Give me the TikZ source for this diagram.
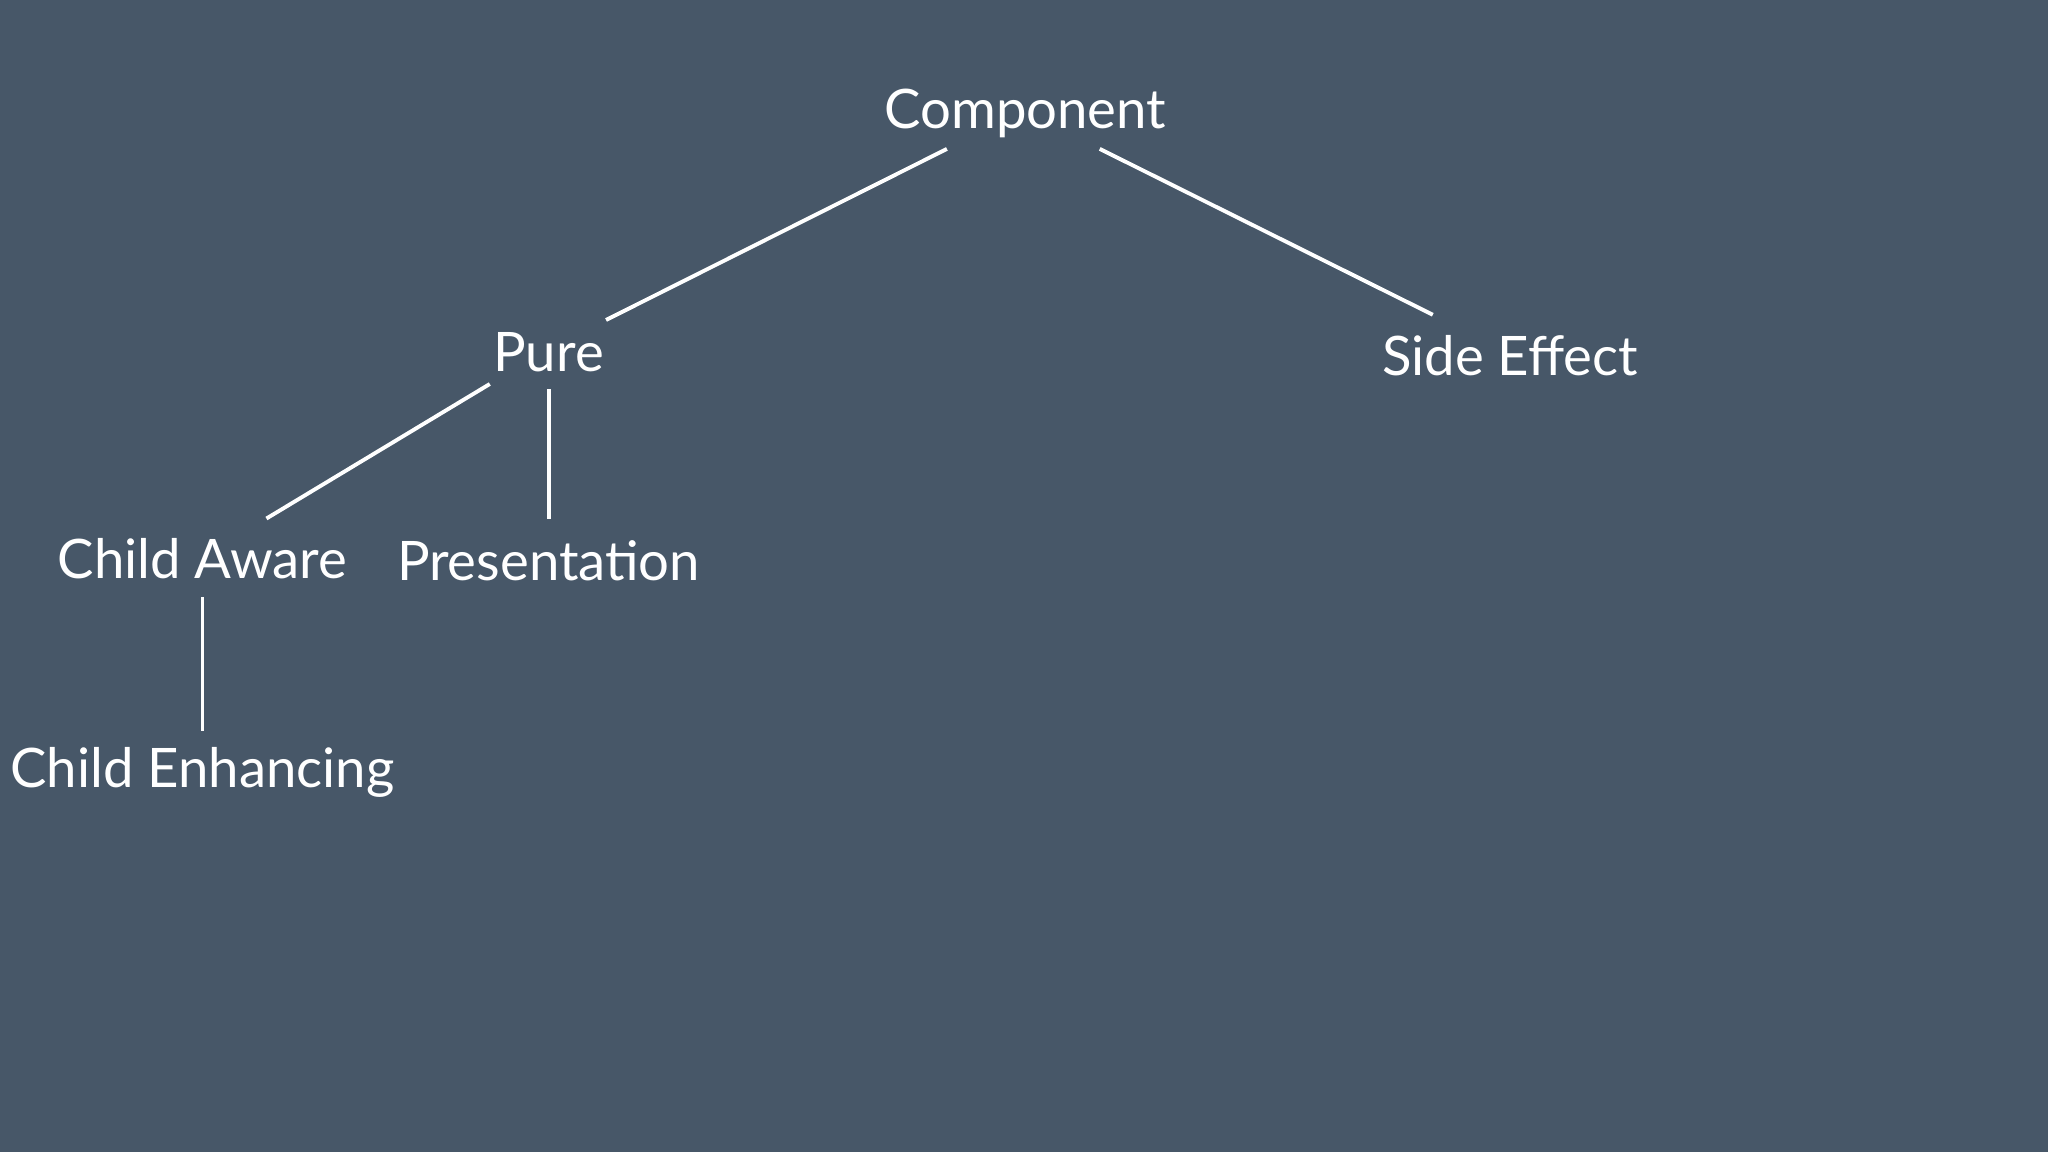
\documentclass[tikz,border=0pt]{standalone}
\usepackage{fontspec}
\setmainfont{Lato}
\usepackage{tikz}

\definecolor{slate}{HTML}{475768}

\begin{document}
\begin{tikzpicture}[
  x=0.01306cm, y=-0.01306cm,
  kind/.style={text=white, font=\fontsize{15.5}{18}\selectfont, inner sep=2pt},
  link/.style={white, line width=1.1pt},
]

\useasboundingbox (0,0) rectangle (1568,882);
\fill[slate] (0,0) rectangle (1568,882);

\node[kind] (comp) at (785,87) {Component};
\node[kind] (pure) at (420,270) {Pure};
\node[kind] (side) at (1156,272) {Side Effect};
\node[kind] (aware) at (155,428) {Child Aware};
\node[kind] (pres) at (420,429) {Presentation};
\node[kind] (enh) at (155,591) {Child Enhancing};

% connectors, offset from node centres
\draw[link] ([shift={(-60,27)}]comp.center) -- ([shift={(44,-25)}]pure.center);
\draw[link] ([shift={(57,27)}]comp.center) -- ([shift={(-59,-31)}]side.center);
\draw[link] ([shift={(-45,24)}]pure.center) -- ([shift={(49,-31)}]aware.center);
\draw[link] ([shift={(0,28)}]pure.center) -- ([shift={(0,-32)}]pres.center);
\draw[link] ([shift={(0,29)}]aware.center) -- ([shift={(0,-31)}]enh.center);
\end{tikzpicture}
\end{document}
